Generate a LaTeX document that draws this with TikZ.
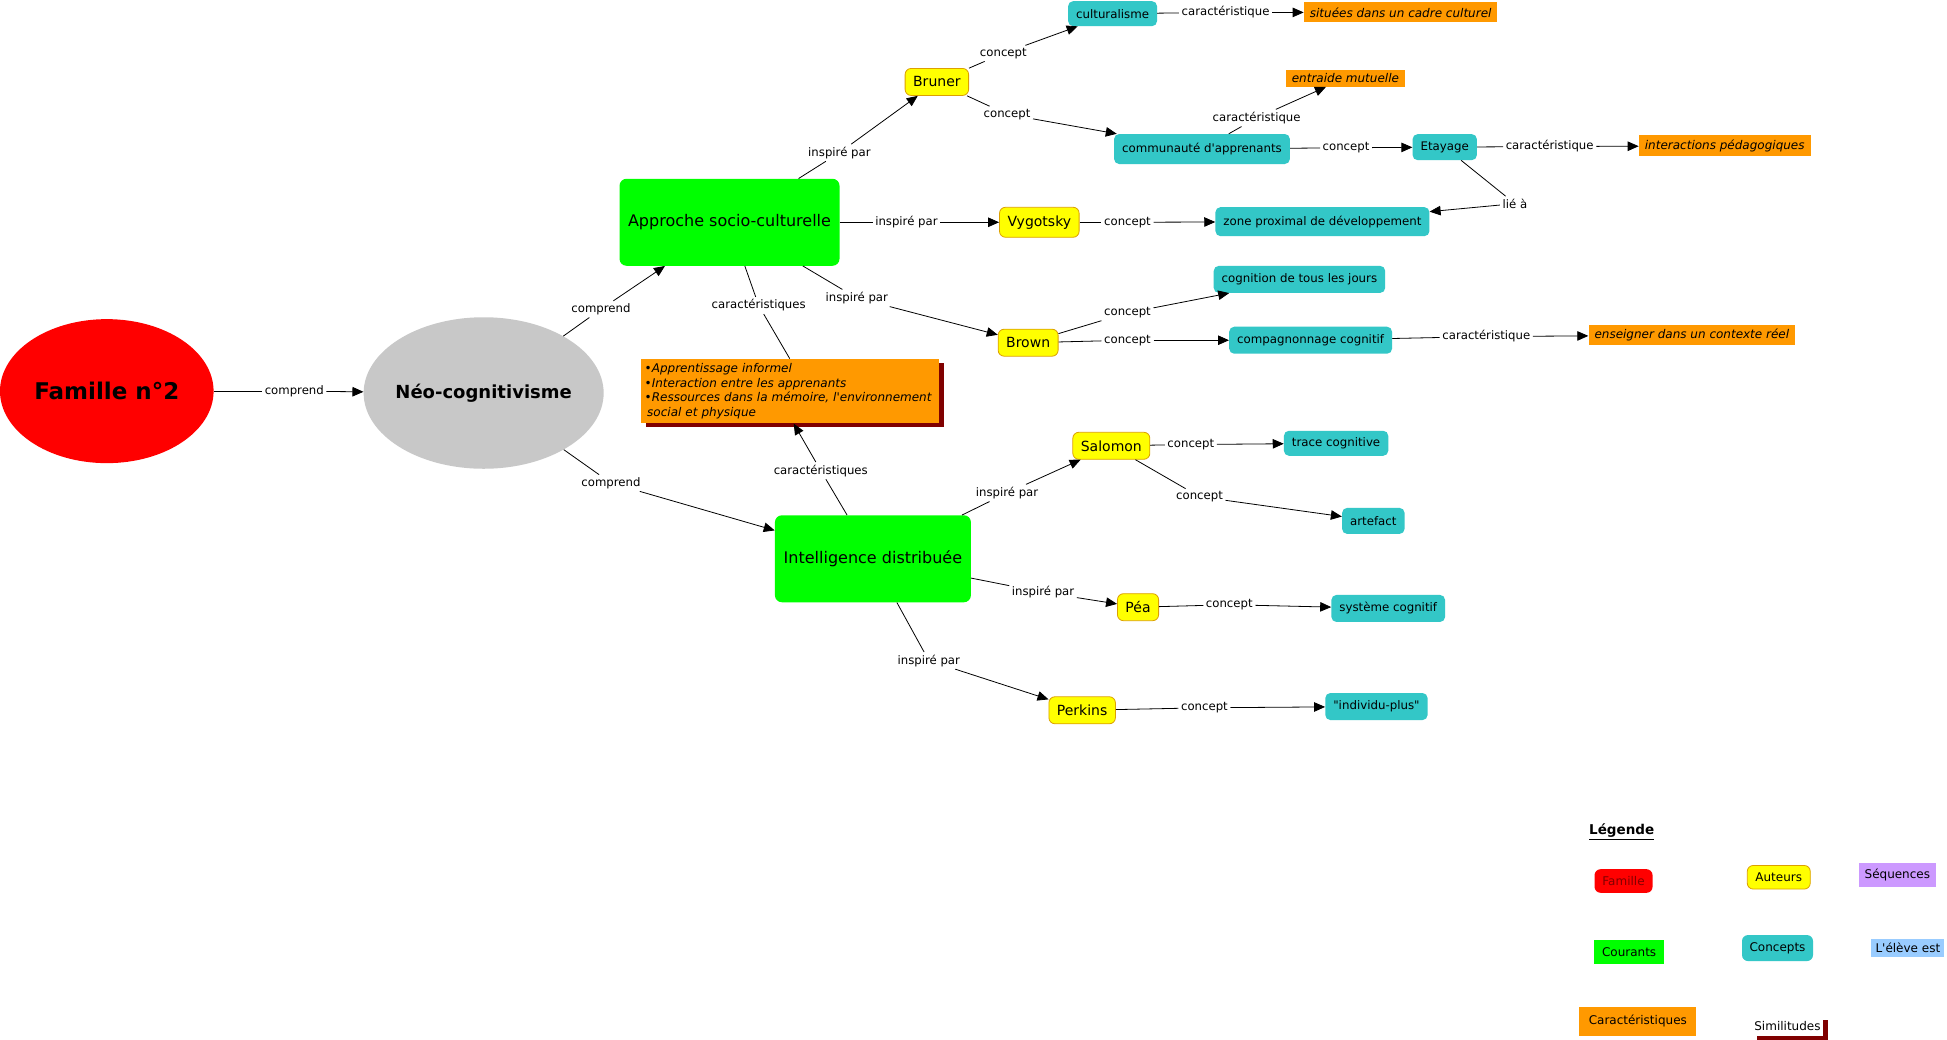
\documentclass[tikz,border=0pt]{standalone}
\usepackage{fontspec}
\setmainfont{DejaVu Sans}
\usetikzlibrary{arrows.meta,shapes.geometric,shadows}
\definecolor{cred}{RGB}{255,0,0}
\definecolor{cgray}{RGB}{200,200,200}
\definecolor{cgreen}{RGB}{0,255,0}
\definecolor{cyellow}{RGB}{255,255,0}
\definecolor{cyborder}{RGB}{220,160,0}
\definecolor{cteal}{RGB}{51,199,199}
\definecolor{corange}{RGB}{255,153,0}
\definecolor{cdark}{RGB}{128,0,0}
\definecolor{cpurple}{RGB}{204,153,255}
\definecolor{cblue}{RGB}{153,204,255}
\tikzset{
 lab/.style={fill=white, inner sep=2.5pt, font=\fontsize{11.7}{13}\selectfont},
 conc/.style={fill=cteal, rounded corners=5pt, inner xsep=8pt, inner ysep=0pt, minimum height=27pt, font=\fontsize{11.8}{13}\selectfont},
 auth/.style={fill=cyellow, draw=cyborder, line width=0.8pt, rounded corners=6pt, inner xsep=8pt, inner ysep=0pt, minimum height=27pt, font=\fontsize{14}{16}\selectfont},
 cour/.style={fill=cgreen, rounded corners=7pt, inner sep=0pt, font=\fontsize{16}{18}\selectfont},
 carb/.style={fill=corange, inner xsep=6pt, inner ysep=0pt, minimum height=20pt, font=\fontsize{12}{14}\selectfont\itshape},
 link/.style={line width=0.8pt},
 arr/.style={line width=0.8pt, -{Triangle[length=11pt,width=9.5pt]}},
 leg/.style={inner sep=0pt, font=\fontsize{12}{14}\selectfont},
}
\begin{document}
\begin{tikzpicture}[x=1.2417pt, y=-1.2417pt]
\fill[white] (0,0) rectangle (1568,837.5);
\useasboundingbox (0,0) rectangle (1568,837.5);

% main nodes
\node[ellipse, fill=cred, minimum width=213.6pt, minimum height=144pt, inner xsep=-20pt, inner ysep=0pt, font=\fontsize{23}{26}\selectfont\bfseries] (fam) at (86,315) {Famille n°2};
\node[ellipse, fill=cgray, minimum width=240pt, minimum height=151.5pt, inner xsep=-20pt, inner ysep=0pt, font=\fontsize{18}{20}\selectfont\bfseries] (neo) at (389.5,316.5) {Néo-cognitivisme};
\node[cour, minimum width=220pt, minimum height=87pt] (app) at (587.5,179) {Approche socio-culturelle};
\node[cour, minimum width=196pt, minimum height=87pt] (intel) at (703,450) {Intelligence distribuée};
\node[fill=corange, drop shadow={shadow xshift=5pt, shadow yshift=-4pt, fill=cdark, opacity=1}, inner xsep=4pt, inner ysep=3pt, minimum width=298pt, minimum height=64.6pt, text width=290pt, align=left, font=\fontsize{12}{14.5}\selectfont\itshape] (carac) at (636,315) {•Apprentissage informel\\•Interaction entre les apprenants\\•Ressources dans la mémoire, l\textquotesingle environnement\\\hspace*{2.5pt}social et physique};

% authors
\node[auth] (bru) at (754.5,66) {Bruner};
\node[auth, minimum height=30pt] (vyg) at (837,179) {Vygotsky};
\node[auth] (bro) at (828,276) {Brown};
\node[auth] (sal) at (895,359) {Salomon};
\node[auth] (pea) at (916.5,489) {Péa};
\node[auth] (per) at (871.5,572) {Perkins};

% concepts
\node[conc, minimum height=25pt] (cul) at (896,11) {culturalisme};
\node[conc, minimum height=30pt] (com) at (968,120) {communauté d\textquotesingle apprenants};
\node[conc, minimum height=26pt] (eta) at (1163.5,118.5) {Etayage};
\node[conc, minimum height=29pt] (zpd) at (1065,178.5) {zone proximal de développement};
\node[conc] (cog) at (1046.5,225) {cognition de tous les jours};
\node[conc] (cmp) at (1055.5,274) {compagnonnage cognitif};
\node[conc, minimum height=25pt] (tra) at (1076,357) {trace cognitive};
\node[conc, minimum height=26pt] (art) at (1106,419.5) {artefact};
\node[conc] (sys) at (1118,490) {système cognitif};
\node[conc] (ind) at (1108.5,569) {\textquotedbl individu-plus\textquotedbl};

% characteristics
\node[carb] (sit) at (1128,10) {situées dans un cadre culturel};
\node[carb, minimum height=17pt] (ent) at (1083.5,63) {entraide mutuelle};
\node[carb, minimum height=21pt] (int) at (1389,117.5) {interactions pédagogiques};
\node[carb] (ens) at (1362.5,270) {enseigner dans un contexte réel};

% linking phrases
\node[lab] (l1) at (237,315) {comprend};
\node[lab] (l2) at (484,249) {comprend};
\node[lab] (l3) at (492,389) {comprend};
\node[lab] (l4) at (676,123) {inspiré par};
\node[lab] (l5) at (730,179) {inspiré par};
\node[lab] (l6) at (690,240) {inspiré par};
\node[lab] (l7) at (611,246) {caractéristiques};
\node[lab] (l8) at (661,379) {caractéristiques};
\node[lab] (l9) at (808,43) {concept};
\node[lab] (l10) at (811,92) {concept};
\node[lab] (l11) at (987,10) {caractéristique};
\node[lab] (l12) at (1012,95) {caractéristique};
\node[lab] (l13) at (1084,119) {concept};
\node[lab] (l14) at (1248,118) {caractéristique};
\node[lab] (l15) at (1220,164) {lié à};
\node[lab] (l16) at (908,179) {concept};
\node[lab] (l17) at (908,252) {concept};
\node[lab] (l18) at (908,274) {concept};
\node[lab] (l19) at (1197,271) {caractéristique};
\node[lab] (l20) at (811,397) {inspiré par};
\node[lab] (l21) at (840,477) {inspiré par};
\node[lab] (l22) at (748,532) {inspiré par};
\node[lab] (l23) at (959,358) {concept};
\node[lab] (l24) at (966,400) {concept};
\node[lab] (l25) at (990,487) {concept};
\node[lab] (l26) at (970,570) {concept};

% connectors
\draw[link] (fam) -- (l1); \draw[arr] (l1) -- (neo);
\draw[link] (neo) -- (l2); \draw[arr] (l2) -- (app);
\draw[link] (neo) -- (l3); \draw[arr] (l3) -- (intel);
\draw[link] (app) -- (l4); \draw[arr] (l4) -- (bru);
\draw[link] (app) -- (l5); \draw[arr] (l5) -- (vyg);
\draw[link] (app) -- (l6); \draw[arr] (l6) -- (bro);
\draw[link] (app) -- (l7); \draw[link] (l7) -- (carac.north);
\draw[link] (intel) -- (l8); \draw[arr] (l8) -- ([xshift=4pt]carac.south);
\draw[link] (bru) -- (l9); \draw[arr] (l9) -- (cul);
\draw[link] (bru) -- (l10); \draw[arr] (l10) -- (com);
\draw[link] (cul) -- (l11); \draw[arr] (l11) -- (sit);
\draw[link] (com) -- (l12); \draw[arr] (l12) -- (ent);
\draw[link] (com) -- (l13); \draw[arr] (l13) -- (eta);
\draw[link] (eta) -- (l14); \draw[arr] (l14) -- (int);
\draw[link] (eta) -- (l15); \draw[arr] (l15) -- (zpd);
\draw[link] (vyg) -- (l16); \draw[arr] (l16) -- (zpd);
\draw[link] (bro) -- (l17); \draw[arr] (l17) -- (cog);
\draw[link] (bro) -- (l18); \draw[arr] (l18) -- (cmp);
\draw[link] (cmp) -- (l19); \draw[arr] (l19) -- (ens);
\draw[link] (intel) -- (l20); \draw[arr] (l20) -- (sal);
\draw[link] (intel) -- (l21); \draw[arr] (l21) -- (pea);
\draw[link] (intel) -- (l22); \draw[arr] (l22) -- (per);
\draw[link] (sal) -- (l23); \draw[arr] (l23) -- (tra);
\draw[link] (sal) -- (l24); \draw[arr] (l24) -- (art);
\draw[link] (pea) -- (l25); \draw[arr] (l25) -- (sys);
\draw[link] (per) -- (l26); \draw[arr] (l26) -- (ind);

% legend
\node[font=\fontsize{13.5}{15}\selectfont\bfseries] (legt) at (1306,670) {\underline{Légende}};
\node[leg, fill=cred, rounded corners=6pt, text=cdark, minimum width=58pt, minimum height=23.6pt] (lgfam) at (1307.5,709.5) {Famille};
\node[leg, fill=cyellow, draw=cyborder, line width=0.8pt, rounded corners=6pt, minimum width=63pt, minimum height=23.6pt] (lgaut) at (1432.5,706.5) {Auteurs};
\node[leg, fill=cpurple, minimum width=77pt, minimum height=23.6pt] (lgseq) at (1528,704.5) {Séquences};
\node[leg, fill=cgreen, minimum width=69.5pt, minimum height=23.6pt] (lgcou) at (1312,766.5) {Courants};
\node[leg, fill=cteal, rounded corners=6pt, minimum width=71pt, minimum height=26pt] (lgcon) at (1431.5,763.5) {Concepts};
\node[leg, fill=cblue, minimum width=73pt, minimum height=18.6pt] (lgele) at (1536.5,763.5) {L\textquotesingle élève est};
\node[leg, fill=corange, minimum width=117pt, minimum height=28.6pt] (lgcar) at (1319,822.5) {Caractéristiques};
\node[leg, fill=white, drop shadow={shadow xshift=5pt, shadow yshift=-4pt, fill=cdark, opacity=1}, minimum width=71pt, minimum height=20pt] (lgsim) at (1439.5,826) {Similitudes};
\end{tikzpicture}
\end{document}
